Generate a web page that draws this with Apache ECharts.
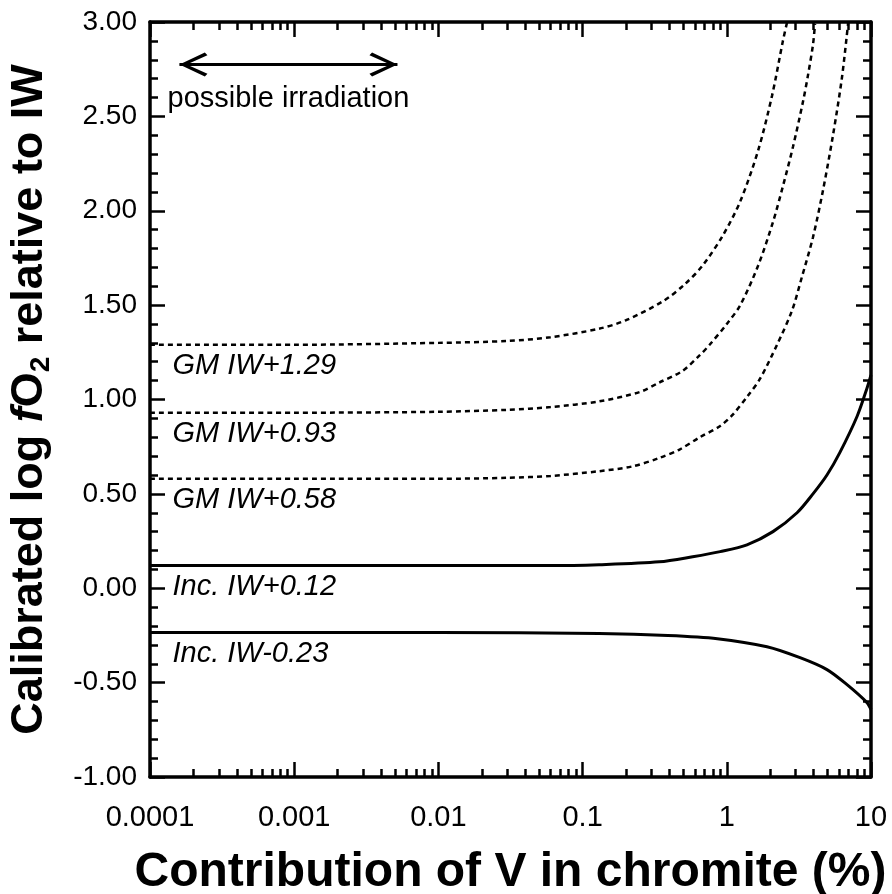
<!DOCTYPE html>
<html>
<head>
<meta charset="utf-8">
<style>
  html, body { margin: 0; padding: 0; background: #fff; }
  #main { width: 892px; height: 894px; }
</style>
<script src="https://cdn.jsdelivr.net/npm/echarts@6/dist/echarts.min.js"></script>
</head>
<body>
<div id="main"></div>
<script>
// tick labels
var xLabels = ['0.0001', '0.001', '0.01', '0.1', '1', '10'];

// GM IW+1.29 (dotted)
var gm129X = [0.0001, 0.001, 0.01, 0.03, 0.06, 0.13, 0.2, 0.36, 0.51, 0.68, 0.94, 1.24, 1.65, 2.06, 2.45, 2.62];
var gm129Y = [1.29, 1.29, 1.30, 1.31, 1.33, 1.375, 1.42, 1.52, 1.61, 1.71, 1.87, 2.05, 2.32, 2.61, 2.90, 3.00];

// GM IW+0.93 (dotted)
var gm093X = [0.0001, 0.001, 0.01, 0.03, 0.06, 0.13, 0.25, 0.34, 0.49, 0.65, 0.76, 1.0, 1.24, 1.65, 2.09, 2.45, 2.88, 3.38, 3.66, 3.96, 4.09];
var gm093Y = [0.93, 0.93, 0.935, 0.945, 0.96, 0.99, 1.04, 1.09, 1.15, 1.235, 1.29, 1.40, 1.50, 1.71, 1.94, 2.13, 2.34, 2.58, 2.72, 2.88, 2.99];

// GM IW+0.58 (dotted)
var gm058X = [0.0001, 0.001, 0.01, 0.03, 0.06, 0.13, 0.22, 0.34, 0.47, 0.65, 0.90, 1.10, 1.40, 1.70, 2.23, 2.83, 3.32, 3.96, 4.65, 5.45, 6.30, 6.95];
var gm058Y = [0.58, 0.58, 0.58, 0.585, 0.595, 0.62, 0.645, 0.69, 0.735, 0.80, 0.86, 0.92, 1.02, 1.11, 1.29, 1.47, 1.65, 1.86, 2.11, 2.40, 2.71, 3.00];

// Inc. IW+0.12 (solid)
var inc012X = [0.0001, 0.001, 0.01, 0.06, 0.13, 0.34, 0.58, 0.90, 1.38, 2.09, 3.07, 3.96, 4.95, 6.09, 8.0, 9.38, 10];
var inc012Y = [0.12, 0.12, 0.12, 0.12, 0.125, 0.14, 0.167, 0.194, 0.23, 0.30, 0.40, 0.50, 0.60, 0.72, 0.91, 1.06, 1.13];

// Inc. IW-0.23 (solid)
var inc023X = [0.0001, 0.001, 0.01, 0.13, 0.39, 0.86, 1.90, 3.22, 4.95, 6.82, 9.38, 10];
var inc023Y = [-0.235, -0.235, -0.235, -0.24, -0.25, -0.267, -0.31, -0.368, -0.431, -0.511, -0.606, -0.643];

var lineNames = ['GM IW+1.29', 'GM IW+0.93', 'GM IW+0.58', 'Inc. IW+0.12', 'Inc. IW-0.23'];

function pairs(xs, ys) {
    var out = [];
    for (var i = 0; i < xs.length; i++) out.push([xs[i], ys[i]]);
    return out;
}

var font = "'Liberation Sans', Arial, sans-serif";
// open arrow head, pointing up
var chevron = 'path://M12,0 L24,24.5 L21.3,27 L12,7 L2.7,27 L0,24.5 Z';

function lineSeries(name, xs, ys, dotted) {
    return {
        name: name,
        type: 'line',
        data: pairs(xs, ys),
        showSymbol: false,
        smooth: 0.3,
        clip: true,
        lineStyle: {
            color: '#000',
            width: dotted ? 2.5 : 3,
            type: dotted ? [5, 4] : 'solid'
        },
        markPoint: {
            symbol: 'circle',
            symbolSize: 1,
            itemStyle: { color: 'rgba(0,0,0,0)' },
            data: [{ coord: [xs[0], ys[0]] }],
            label: {
                show: true,
                position: [23, 22],
                align: 'left',
                verticalAlign: 'middle',
                formatter: name,
                color: '#000',
                fontFamily: font,
                fontStyle: 'italic',
                fontSize: 29
            }
        }
    };
}

var tickCommon = {
    axisLine: { show: true, onZero: false, lineStyle: { color: '#000', width: 3.5 } },
    axisTick: { show: true, inside: true, length: 15, lineStyle: { color: '#000', width: 2.5 } },
    splitLine: { show: false }
};

var myChart = echarts.init(document.getElementById('main'));

var series = [
    lineSeries(lineNames[0], gm129X, gm129Y, true),
    lineSeries(lineNames[1], gm093X, gm093Y, true),
    lineSeries(lineNames[2], gm058X, gm058Y, true),
    lineSeries(lineNames[3], inc012X, inc012Y, false),
    lineSeries(lineNames[4], inc023X, inc023Y, false)
];

// "possible irradiation" double arrow
series[0].markLine = {
    silent: true,
    symbol: [chevron, chevron],
    symbolSize: [24, 28],
    symbolOffset: [[0, 14], [0, 14]],
    lineStyle: { color: '#000', width: 3, type: 'solid' },
    label: {
        show: true,
        position: 'insideMiddleBottom',
        distance: 20,
        formatter: 'possible irradiation',
        color: '#000',
        fontFamily: font,
        fontSize: 29
    },
    data: [[{ coord: [0.00016, 2.775] }, { coord: [0.0052, 2.775] }]]
};

var option = {
    animation: false,
    backgroundColor: '#fff',
    grid: { left: 150, right: 21, top: 22, bottom: 117, containLabel: false, outerBoundsMode: 'none' },
    xAxis: [
        Object.assign({
            type: 'log',
            logBase: 10,
            min: 0.0001,
            max: 10,
            position: 'bottom',
            name: 'Contribution of V in chromite (%)',
            nameLocation: 'middle',
            nameGap: 72,
            nameTextStyle: { color: '#000', fontFamily: font, fontWeight: 'bold', fontSize: 48 },
            minorTick: { show: true, splitNumber: 9, length: 8, lineStyle: { color: '#000', width: 2.5 } },
            axisLabel: {
                margin: 26,
                color: '#000',
                fontFamily: font,
                fontSize: 29,
                formatter: function (v) {
                    var i = Math.round(Math.log10(v)) + 4;
                    return xLabels[i] || '';
                }
            }
        }, tickCommon),
        Object.assign({
            type: 'log',
            logBase: 10,
            min: 0.0001,
            max: 10,
            position: 'top',
            minorTick: { show: true, splitNumber: 9, length: 8, lineStyle: { color: '#000', width: 2.5 } },
            axisLabel: { show: false }
        }, tickCommon)
    ],
    yAxis: [
        Object.assign({
            type: 'value',
            min: -1,
            max: 3,
            interval: 0.5,
            position: 'left',
            name: '{b|Calibrated log }{i|f}{b|O}{s|2}{b| relative to IW}',
            nameLocation: 'middle',
            nameRotate: 90,
            nameGap: 95,
            nameTextStyle: {
                color: '#000',
                fontFamily: font,
                fontWeight: 'bold',
                fontSize: 45,
                rich: {
                    b: { fontFamily: font, fontWeight: 'bold', fontSize: 45, color: '#000', lineHeight: 50 },
                    i: { fontFamily: font, fontWeight: 'bold', fontStyle: 'italic', fontSize: 45, color: '#000', lineHeight: 50 },
                    s: { fontFamily: font, fontWeight: 'bold', fontSize: 28, color: '#000', lineHeight: 26, verticalAlign: 'bottom' }
                }
            },
            minorTick: { show: true, splitNumber: 5, length: 8, lineStyle: { color: '#000', width: 2.5 } },
            axisLabel: {
                margin: 13,
                color: '#000',
                fontFamily: font,
                fontSize: 28,
                padding: [8, 0, 0, 0],
                formatter: function (v) { return v.toFixed(2); }
            }
        }, tickCommon),
        Object.assign({
            type: 'value',
            min: -1,
            max: 3,
            interval: 0.5,
            position: 'right',
            minorTick: { show: true, splitNumber: 5, length: 8, lineStyle: { color: '#000', width: 2.5 } },
            axisLabel: { show: false }
        }, tickCommon)
    ],
    series: series
};

myChart.setOption(option);
</script>
</body>
</html>
